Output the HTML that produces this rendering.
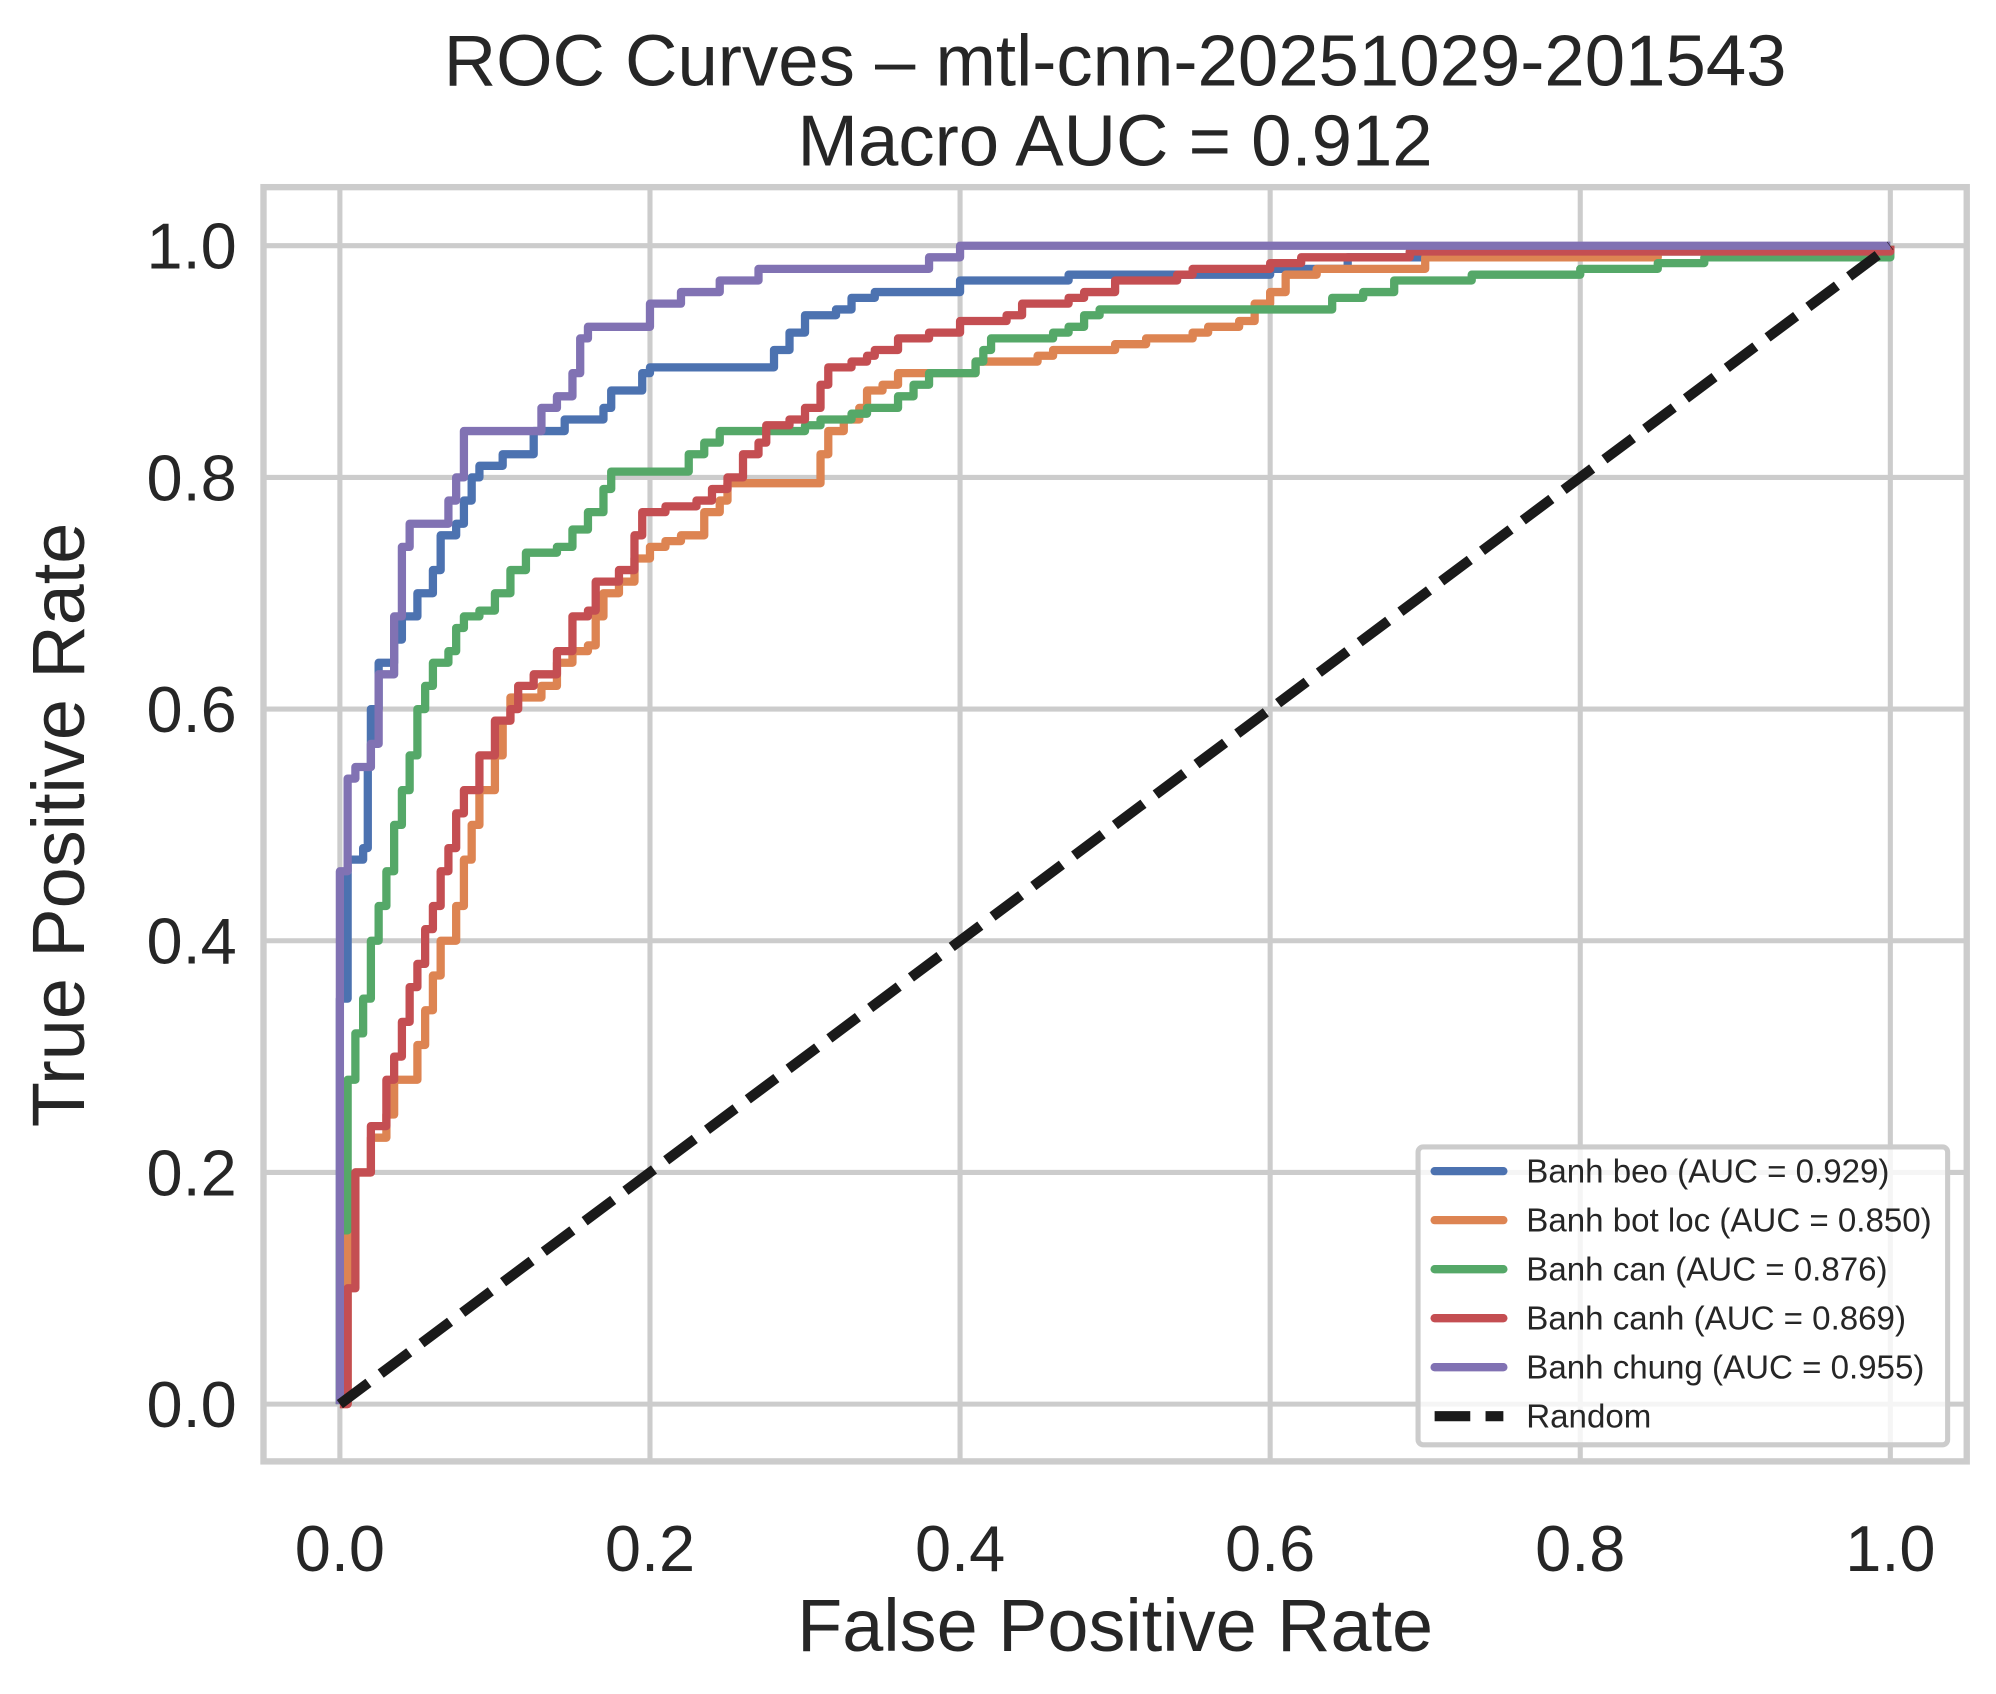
<!DOCTYPE html>
<html><head><meta charset="utf-8"><style>
html,body{margin:0;padding:0;background:#fff;}
svg{display:block;font-family:"Liberation Sans",Arial,sans-serif;}
</style></head><body>
<svg id="chart" width="1996" height="1694" viewBox="0 0 1568 1330.7" xmlns="http://www.w3.org/2000/svg">
<rect x="0" y="0" width="1568" height="1331" fill="#fff"/>
<text x="876" y="67" font-size="57" text-anchor="middle" fill="#262626">ROC Curves – mtl-cnn-20251029-201543</text>
<text x="876" y="130" font-size="57" text-anchor="middle" fill="#262626">Macro AUC = 0.912</text>
<g id="grid"></g>
<g id="series"></g>
<rect x="207" y="147" width="1338" height="1001" fill="none" stroke="#cccccc" stroke-width="5"/>
<g id="ticks"></g>
<text x="876" y="1297" font-size="58" text-anchor="middle" fill="#262626">False Positive Rate</text>
<text transform="translate(66,648) rotate(-90)" font-size="58" text-anchor="middle" fill="#262626">True Positive Rate</text>
<g id="legend"></g>
</svg>
<script>
const tickVals = [0, 0.2, 0.4, 0.6, 0.8, 1.0];
const tickLabels = ["0.0", "0.2", "0.4", "0.6", "0.8", "1.0"];
const seriesNames = ["Banh beo (AUC = 0.929)", "Banh bot loc (AUC = 0.850)", "Banh can (AUC = 0.876)", "Banh canh (AUC = 0.869)", "Banh chung (AUC = 0.955)"];
const beoFpr = [0,0,0.005,0.015,0.018,0.02,0.025,0.035,0.04,0.05,0.06,0.065,0.075,0.08,0.085,0.09,0.1,0.105,0.12,0.125,0.14,0.145,0.165,0.17,0.175,0.19,0.195,0.2,0.27,0.28,0.29,0.3,0.32,0.33,0.345,0.395,0.4,0.46,0.47,0.6,0.65,0.74,0.75,0.895,1];
const beoTpr = [0,0.35,0.47,0.48,0.55,0.6,0.64,0.66,0.68,0.7,0.72,0.75,0.76,0.78,0.8,0.81,0.81,0.82,0.82,0.84,0.84,0.85,0.85,0.86,0.875,0.875,0.89,0.895,0.895,0.91,0.925,0.94,0.945,0.955,0.96,0.96,0.97,0.97,0.975,0.98,0.99,0.99,0.995,0.995,1];
const botFpr = [0,0.005,0.005,0.01,0.02,0.03,0.035,0.045,0.05,0.055,0.06,0.065,0.075,0.08,0.085,0.09,0.1,0.105,0.11,0.125,0.13,0.14,0.15,0.16,0.165,0.17,0.18,0.19,0.2,0.21,0.22,0.23,0.235,0.245,0.25,0.3,0.31,0.315,0.325,0.335,0.34,0.35,0.36,0.4,0.41,0.45,0.46,0.5,0.52,0.55,0.56,0.58,0.59,0.6,0.61,0.63,0.7,0.85,1];
const botTpr = [0,0.05,0.15,0.2,0.23,0.25,0.28,0.28,0.31,0.34,0.37,0.4,0.43,0.47,0.5,0.53,0.56,0.59,0.61,0.61,0.62,0.64,0.65,0.655,0.68,0.7,0.71,0.73,0.74,0.745,0.75,0.75,0.77,0.78,0.795,0.795,0.82,0.84,0.85,0.86,0.875,0.88,0.89,0.89,0.9,0.905,0.91,0.915,0.92,0.925,0.93,0.935,0.95,0.96,0.975,0.98,0.99,0.995,1];
const canFpr = [0,0,0.005,0.01,0.015,0.02,0.025,0.03,0.035,0.04,0.045,0.05,0.055,0.06,0.07,0.075,0.08,0.09,0.1,0.11,0.12,0.14,0.15,0.16,0.17,0.175,0.22,0.225,0.235,0.245,0.3,0.31,0.33,0.34,0.36,0.37,0.38,0.4,0.41,0.415,0.42,0.46,0.47,0.48,0.49,0.62,0.64,0.66,0.68,0.73,0.8,0.85,0.88,1];
const canTpr = [0,0.15,0.28,0.32,0.35,0.4,0.43,0.46,0.5,0.53,0.56,0.6,0.62,0.64,0.65,0.67,0.68,0.685,0.7,0.72,0.735,0.74,0.755,0.77,0.79,0.805,0.805,0.82,0.83,0.84,0.845,0.85,0.855,0.86,0.87,0.88,0.89,0.89,0.9,0.91,0.92,0.925,0.93,0.94,0.945,0.945,0.955,0.96,0.97,0.975,0.98,0.985,0.99,1];
const canhFpr = [0,0.005,0.01,0.02,0.03,0.035,0.04,0.045,0.05,0.055,0.06,0.065,0.07,0.075,0.08,0.09,0.1,0.11,0.115,0.125,0.14,0.15,0.16,0.165,0.18,0.19,0.195,0.21,0.23,0.24,0.25,0.26,0.27,0.275,0.29,0.3,0.31,0.315,0.33,0.34,0.345,0.36,0.38,0.4,0.43,0.44,0.47,0.48,0.5,0.54,0.55,0.6,0.62,0.69,1];
const canhTpr = [0,0.1,0.2,0.24,0.28,0.3,0.33,0.36,0.38,0.41,0.43,0.46,0.48,0.51,0.53,0.56,0.59,0.6,0.62,0.63,0.65,0.68,0.685,0.71,0.72,0.75,0.77,0.775,0.78,0.79,0.8,0.82,0.83,0.845,0.85,0.86,0.88,0.895,0.9,0.905,0.91,0.92,0.925,0.935,0.94,0.95,0.955,0.96,0.97,0.975,0.98,0.985,0.99,0.995,1];
const chungFpr = [0,0,0.005,0.01,0.02,0.025,0.035,0.04,0.04,0.045,0.07,0.07,0.075,0.08,0.125,0.13,0.14,0.15,0.155,0.16,0.195,0.2,0.22,0.22,0.245,0.27,0.38,0.38,0.4,1];
const chungTpr = [0,0.46,0.54,0.55,0.57,0.63,0.68,0.7,0.74,0.76,0.76,0.78,0.8,0.84,0.84,0.86,0.87,0.89,0.92,0.93,0.93,0.95,0.95,0.96,0.97,0.98,0.98,0.99,1,1];
const randomFpr = [0, 1];
const randomTpr = [0, 1];

const colors = ["#4c72b0","#dd8452","#55a868","#c44e52","#8172b3"];
const X0=267, X1=1485, Y0=1103, Y1=193;
function sx(v){return X0+(X1-X0)*v;}
function sy(v){return Y0-(Y0-Y1)*v;}
const NS="http://www.w3.org/2000/svg";
function mk(tag,attrs,parent){const e=document.createElementNS(NS,tag);for(const k in attrs)e.setAttribute(k,attrs[k]);parent.appendChild(e);return e;}
const grid=document.getElementById('grid'), ticks=document.getElementById('ticks'), series=document.getElementById('series'), legend=document.getElementById('legend');
tickVals.forEach((v,i)=>{
  const gx=mk('line',{x1:sx(v),x2:sx(v),y1:147,y2:1148,stroke:'#cccccc','stroke-width':4},grid);
  
  
  const gy=mk('line',{x1:207,x2:1545,y1:sy(v),y2:sy(v),stroke:'#cccccc','stroke-width':4},grid);
  
  
  const tx=mk('text',{x:sx(v),y:1234,'font-size':51,'text-anchor':'middle',fill:'#262626'},ticks);
  tx.textContent=tickLabels[i];
  
  
  const ty=mk('text',{x:186,y:sy(v)+18,'font-size':51,'text-anchor':'end',fill:'#262626'},ticks);
  ty.textContent=tickLabels[i];
  
  
});
function stepPath(fx,ty){
  let d='M'+sx(fx[0])+','+sy(ty[0]);
  for(let i=1;i<fx.length;i++){d+=' H'+sx(fx[i])+' V'+sy(ty[i]);}
  return d;
}
const allF=[beoFpr,botFpr,canFpr,canhFpr,chungFpr], allT=[beoTpr,botTpr,canTpr,canhTpr,chungTpr];
const seriesKeys=["banh-beo","banh-bot-loc","banh-can","banh-canh","banh-chung"];
allF.forEach((f,i)=>{
  const p=mk('path',{d:stepPath(f,allT[i]),fill:'none',stroke:colors[i],'stroke-width':6.5,'stroke-linejoin':'round'},series);
  
  
});
const rl=mk('line',{x1:sx(randomFpr[0]),y1:sy(randomTpr[0]),x2:sx(randomFpr[1]),y2:sy(randomTpr[1]),stroke:'#1a1a1a','stroke-width':8,'stroke-dasharray':'28,12'},series);


// legend
const lb=mk('rect',{x:1114,y:901,width:416,height:234,rx:4,fill:'#fff','fill-opacity':0.8,stroke:'#cccccc','stroke-width':4},legend);


const labels=seriesNames.concat(["Random"]);
labels.forEach((s,i)=>{
  const y=920+i*38.5;
  const ln=mk('line',{x1:1127,x2:1181,y1:y,y2:y,stroke:i<5?colors[i]:'#1a1a1a','stroke-width':i<5?6.5:8,'stroke-linecap':i<5?'round':'butt'},legend);
  if(i==5) ln.setAttribute('stroke-dasharray','28,12');
  
  
  const t=mk('text',{x:1199,y:y+9,'font-size':26,fill:'#262626'},legend);
  t.textContent=s;
  
  
});
</script>
</body></html>
